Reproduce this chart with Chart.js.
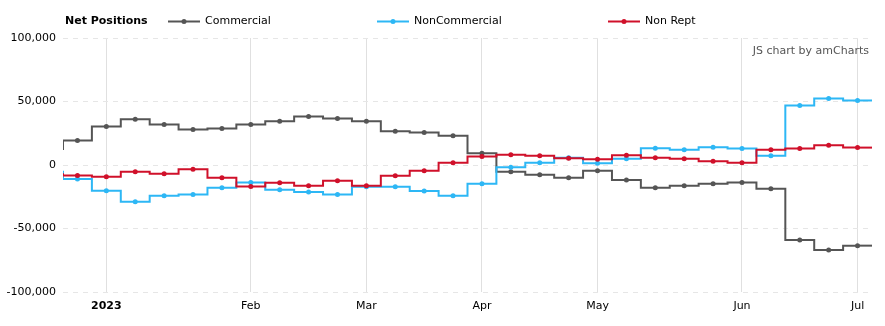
<!DOCTYPE html>
<html>
<head>
<meta charset="utf-8">
<title>Net Positions</title>
<script src="https://cdn.jsdelivr.net/npm/chart.js@4/dist/chart.umd.min.js"></script>
<style>
  html, body { margin: 0; padding: 0; background: #ffffff; }
  #wrap { width: 885px; height: 326px; }
</style>
</head>
<body>
<div id="wrap"><canvas id="cot" width="885" height="326"></canvas></div>
<script>
// Weekly report dates (Tuesdays); the first week sits just left of the visible range.
const weeks = [
  '2022-12-20', '2022-12-27',
  '2023-01-03', '2023-01-10', '2023-01-17', '2023-01-24', '2023-01-31',
  '2023-02-07', '2023-02-14', '2023-02-21', '2023-02-28',
  '2023-03-07', '2023-03-14', '2023-03-21', '2023-03-28',
  '2023-04-04', '2023-04-11', '2023-04-18', '2023-04-25',
  '2023-05-02', '2023-05-09', '2023-05-16', '2023-05-23', '2023-05-30',
  '2023-06-06', '2023-06-13', '2023-06-20', '2023-06-27',
  '2023-07-04'
];

// Net positions (contracts) per week
const commercial = [
  12600, 19200,
  30300, 36100, 31900, 27900, 28700,
  31900, 34500, 38200, 36600,
  34500, 26600, 25500, 23100,
  9200, -5300, -7600, -10000,
  -4500, -11800, -17900, -16300, -14700,
  -13700, -18700, -59000, -66900,
  -63500
];
const nonCommercial = [
  -5300, -11100,
  -20300, -29000, -24200, -23200, -17900,
  -13700, -19500, -21300, -23200,
  -17100, -17100, -20500, -24200,
  -14700, -1800, 1800, 5800,
  1300, 5000, 13200, 12100, 14000,
  12900, 7300, 46800, 52400,
  50800
];
const nonRept = [
  -7300, -8200,
  -9200, -5300, -6800, -3400, -10000,
  -16900, -13900, -16300, -12400,
  -16300, -8400, -4500, 1800,
  6600, 8100, 7300, 5300,
  4500, 7700, 5800, 5000, 2900,
  1800, 12100, 12900, 15600,
  13700
];

// Axis labels
const legendTitle = 'Net Positions';
const seriesNames = ['Commercial', 'NonCommercial', 'Non Rept'];
const xTickLabels = ['2023', 'Feb', 'Mar', 'Apr', 'May', 'Jun', 'Jul'];
const yTickValues = [-100000, -50000, 0, 50000, 100000];
const creditText = 'JS chart by amCharts';

const colors = ['#555555', '#2db7f5', '#d0102a'];

// First week of every month gets a tick and a vertical grid line
const monthStarts = [];
weeks.forEach((w, i) => {
  if (i > 0 && w.slice(5, 7) !== weeks[i - 1].slice(5, 7)) monthStarts.push(i);
});

const toPoints = arr => arr.map((v, i) => ({ x: i, y: v }));

const makeSeries = (label, values, color, order) => ({
  label,
  data: toPoints(values),
  borderColor: color,
  backgroundColor: color,
  pointBackgroundColor: color,
  pointBorderWidth: 0,
  pointRadius: 2.5,
  pointHoverRadius: 4,
  borderWidth: 2,
  stepped: 'middle',
  fill: false,
  order
});

// Carries each step line on to the right edge of the plot
const stepTail = {
  id: 'stepTail',
  beforeDatasetsDraw(chart) {
    const { ctx, chartArea } = chart;
    ctx.save();
    ctx.beginPath();
    ctx.rect(chartArea.left, chartArea.top, chartArea.right - chartArea.left, chartArea.bottom - chartArea.top);
    ctx.clip();
    chart.data.datasets.forEach((ds, i) => {
      const meta = chart.getDatasetMeta(i);
      const last = meta.data[meta.data.length - 1];
      if (!last) return;
      ctx.strokeStyle = ds.borderColor;
      ctx.lineWidth = ds.borderWidth;
      ctx.beginPath();
      ctx.moveTo(last.x, last.y);
      ctx.lineTo(chartArea.right, last.y);
      ctx.stroke();
    });
    ctx.restore();
  }
};

// Title, series keys and credit line across the top
const topLegend = {
  id: 'topLegend',
  afterDraw(chart) {
    const { ctx, chartArea } = chart;
    const family = "'DejaVu Sans', Verdana, sans-serif";
    const y = 21.5;
    const keyX = [168, 377, 608];
    ctx.save();
    ctx.textBaseline = 'middle';
    ctx.textAlign = 'left';
    ctx.fillStyle = '#000000';
    ctx.font = 'bold 11px ' + family;
    ctx.fillText(legendTitle, 65, y);
    ctx.font = '11px ' + family;
    chart.data.datasets.forEach((ds, i) => {
      const x0 = keyX[i];
      ctx.strokeStyle = ds.borderColor;
      ctx.lineWidth = 2;
      ctx.beginPath();
      ctx.moveTo(x0, y);
      ctx.lineTo(x0 + 32, y);
      ctx.stroke();
      ctx.fillStyle = ds.borderColor;
      ctx.beginPath();
      ctx.arc(x0 + 16, y, 2.5, 0, Math.PI * 2);
      ctx.fill();
      ctx.fillStyle = '#000000';
      ctx.fillText(ds.label, x0 + 37, y);
    });
    ctx.fillStyle = '#555555';
    ctx.textAlign = 'right';
    ctx.fillText(creditText, chartArea.right - 3, 51.5);
    ctx.restore();
  }
};

Chart.defaults.font.family = "'DejaVu Sans', Verdana, sans-serif";
Chart.defaults.font.size = 11;
Chart.defaults.color = '#000000';

new Chart(document.getElementById('cot'), {
  type: 'line',
  data: {
    datasets: [
      makeSeries(seriesNames[0], commercial, colors[0], 2),
      makeSeries(seriesNames[1], nonCommercial, colors[1], 1),
      makeSeries(seriesNames[2], nonRept, colors[2], 0)
    ]
  },
  options: {
    responsive: false,
    animation: false,
    layout: { padding: { top: 38, right: 13, left: 0, bottom: 0 } },
    plugins: {
      legend: { display: false },
      tooltip: { enabled: true }
    },
    scales: {
      x: {
        type: 'linear',
        min: 0.5,
        max: weeks.length - 0.5,
        afterBuildTicks: scale => {
          scale.ticks = monthStarts.map(i => ({ value: i }));
        },
        afterFit: scale => { scale.height = 34; },
        ticks: {
          autoSkip: false,
          maxRotation: 0,
          padding: 8,
          color: '#000000',
          callback: (value, index) => xTickLabels[index],
          font: ctx => ({ weight: ctx.index === 0 ? 'bold' : 'normal' })
        },
        grid: { color: '#e0e0e0', lineWidth: 1, drawTicks: false },
        border: { display: false }
      },
      y: {
        min: yTickValues[0],
        max: yTickValues[yTickValues.length - 1],
        afterBuildTicks: scale => {
          scale.ticks = yTickValues.map(v => ({ value: v }));
        },
        afterFit: scale => { scale.width = 63; },
        ticks: {
          padding: 7,
          color: '#000000',
          callback: v => v.toLocaleString('en-US')
        },
        grid: { color: '#e6e6e6', lineWidth: 1, drawTicks: false },
        border: { display: false, dash: [5, 5] }
      }
    }
  },
  plugins: [stepTail, topLegend]
});
</script>
</body>
</html>
